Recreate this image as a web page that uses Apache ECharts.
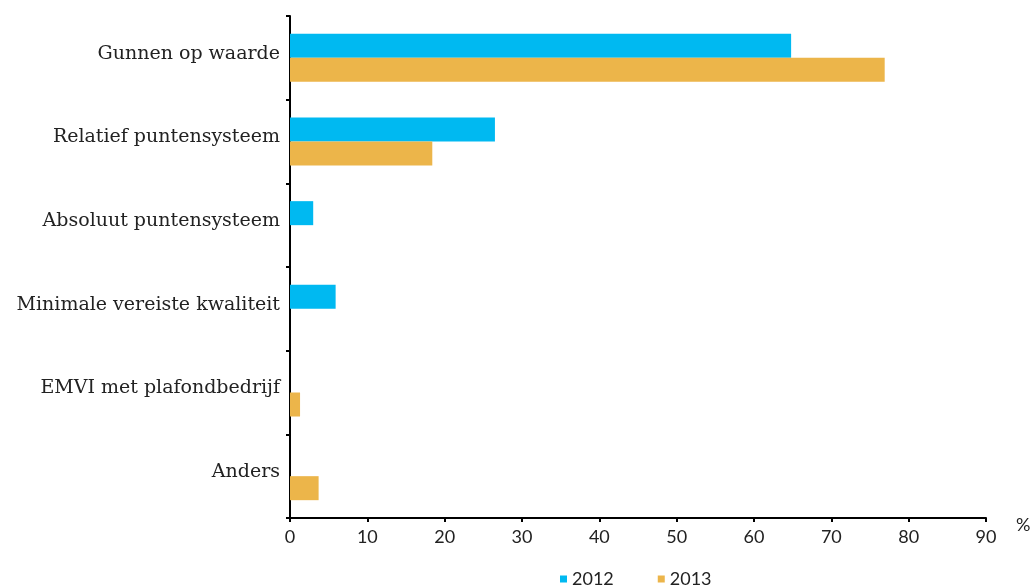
<!DOCTYPE html>
<html><head><meta charset="utf-8">
<script src="https://cdn.jsdelivr.net/npm/echarts@6/dist/echarts.min.js"></script>
<style>html,body{margin:0;padding:0;background:#fff}#c{width:1034px;height:588px}</style>
</head><body><div id="c"></div>
<script>
const categories = ["Gunnen op waarde","Relatief puntensysteem","Absoluut puntensysteem","Minimale vereiste kwaliteit","EMVI met plafondbedrijf","Anders"];
const values2012 = [64.8, 26.5, 3.0, 5.9, 0, 0];
const values2013 = [76.9, 18.4, 0, 0, 1.3, 3.7];
const seriesNames = ["2012","2013"];
const colors = ["#00b9f1","#ecb54a"];

const chart = echarts.init(document.getElementById('c'), null, {renderer:'canvas'});
chart.setOption({
  animation:false,
  grid:{left:290, right:48, top:16, bottom:70, containLabel:false},
  legend:{
    data:seriesNames, top:565, left:555, itemWidth:7, itemHeight:7, itemGap:44, icon:'rect',
    textStyle:{fontFamily:'Lato', fontSize:18, color:'#222', padding:[2,0,0,0]}
  },
  xAxis:{
    type:'value', min:0, max:90, interval:10,
    name:'%', nameLocation:'end', nameGap:30,
    nameTextStyle:{fontFamily:'Lato', fontSize:18, color:'#222', verticalAlign:'top', padding:[-2,0,0,0]},
    axisLine:{show:true, lineStyle:{color:'#000', width:2}},
    axisTick:{show:true, length:4, lineStyle:{color:'#000', width:2}},
    axisLabel:{fontFamily:'Lato', fontSize:18, color:'#222', margin:10},
    splitLine:{show:false}
  },
  yAxis:{
    type:'category', data:categories, inverse:true,
    axisLine:{show:true, lineStyle:{color:'#000', width:2}},
    axisTick:{show:true, length:4, lineStyle:{color:'#000', width:2}},
    axisLabel:{fontFamily:'DejaVu Serif', fontSize:19, color:'#222', margin:10, verticalAlign:'bottom', lineHeight:8}
  },
  series:[
    {name:seriesNames[0], type:'bar', data:values2012, itemStyle:{color:colors[0]}, barGap:'0%', barCategoryGap:'42.6%'},
    {name:seriesNames[1], type:'bar', data:values2013, itemStyle:{color:colors[1]}, barGap:'0%', barCategoryGap:'42.6%'}
  ]
});
</script></body></html>
